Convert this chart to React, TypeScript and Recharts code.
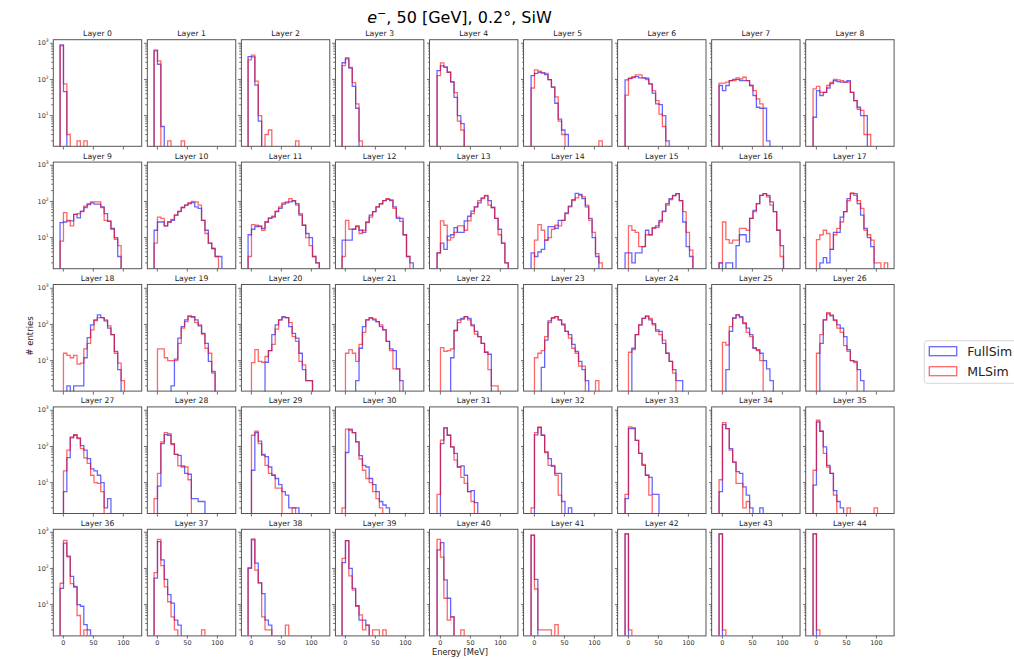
import React from "react";
import { LineChart, Line, XAxis, YAxis } from "recharts";

// histogram binning shared by every layer (MeV)
const binStart = -5.5;
const binWidth = 5.65;
const FLOOR = 0.5; // empty bins drop below the log axis

const layerNames = Array.from({ length: 45 }, (_, i) => `Layer ${i}`);
const xTicks = [0, 50, 100];
const yMajor = [10, 100, 1000];
const yMinor = [2, 3, 4, 5, 6, 7, 8, 9, 20, 30, 40, 50, 60, 70, 80, 90, 200, 300, 400, 500, 600, 700, 800, 900];
const yTicks = [...yMinor, ...yMajor].sort((a, b) => a - b);

// counts per bin, one row per layer
const fullSim: number[][] = [
  [900, 46],
  [650, 263, 5],
  [430, 420, 70, 7],
  [290, 370, 205, 64, 16],
  [176, 237, 222, 158, 84, 32, 10, 6],
  [128, 148, 158, 152, 136, 99, 61, 22, 8, 4, 3],
  [97, 108, 112, 120, 110, 110, 108, 75, 42, 21, 20, 10, 2],
  [68, 49, 68, 93, 101, 101, 93, 93, 93, 68, 36, 17, 16, 16, 2],
  [9, 49, 36, 44, 58, 77, 93, 87, 84, 84, 93, 44, 26, 17, 10, 10],
  [26, 27, 29, 29, 44, 35, 54, 68, 82, 91, 84, 84, 71, 46, 28, 18, 10, 3],
  [16, 27, 27, 21, 27, 30, 42, 52, 68, 79, 87, 93, 71, 64, 30, 16, 7, 5, 3, 3],
  [12, 17, 20, 21, 18, 27, 34, 37, 52, 64, 84, 91, 97, 106, 87, 42, 22, 13, 10, 3, 2],
  [8.5, 8.5, 8.5, 17, 21, 16, 14, 27, 42, 52, 71, 87, 106, 115, 106, 71, 34, 34, 12, 3, 2],
  [3.8, 7, 4.7, 11, 12, 19, 14, 14, 29, 39, 54, 71, 91, 126, 142, 106, 68, 34, 17, 7, 2],
  [3.8, 3, 4, 4.7, 8.5, 20, 20, 18, 30, 30, 48, 74, 112, 168, 157, 120, 71, 34, 10, 3],
  [3.8, 3.8, 2, 3.8, 3.8, 5.6, 16, 12, 19, 21, 30, 54, 87, 120, 148, 165, 106, 27, 5.6, 3],
  [2, 0, 2, 2, 0, 6, 12, 12, 7.6, 34, 57, 87, 148, 165, 148, 97, 52, 16, 6],
  [0, 0, 2, 2.8, 2, 4.7, 14, 14, 37, 52, 120, 165, 165, 87, 42, 18, 10, 5.6],
  [0, 0, 2, 0, 2, 2, 2, 12, 43, 97, 134, 183, 155, 126, 79, 52, 18, 5.6],
  [0, 0, 0, 0, 0, 2, 11, 42, 87, 134, 172, 165, 134, 91, 57, 30, 9.5, 5],
  [0, 0, 0, 0, 0, 9, 19, 52, 97, 134, 165, 155, 87, 57, 42, 16, 5.6, 2.8, 2.8],
  [0, 0, 0, 0, 2.8, 22, 87, 134, 155, 134, 120, 87, 71, 34, 21, 19, 5.9, 2.8],
  [0, 0, 0, 0, 12, 68, 134, 148, 165, 148, 97, 64, 46, 30, 17, 15],
  [0, 0, 0, 6.5, 37, 126, 155, 165, 134, 97, 64, 52, 28, 18, 9.5, 5.6, 2.8],
  [0, 0, 22, 52, 97, 148, 172, 134, 106, 71, 64, 30, 16, 9.5, 5.6, 2.8, 2.8],
  [0, 0, 5.6, 64, 148, 183, 165, 106, 79, 52, 22, 20, 16, 10, 5.9, 2.8],
  [0, 0, 30, 134, 196, 172, 134, 97, 79, 46, 20, 10, 9.5, 5.6, 2.8],
  [0, 5.6, 49, 172, 204, 172, 106, 79, 46, 24, 21, 16, 10, 2, 3.6],
  [0, 8, 120, 212, 204, 120, 60, 57, 29, 18, 17, 3.6, 3.6, 3, 3],
  [0, 22, 241, 140, 60, 52, 27, 16, 13, 8.8, 5.6, 4.5, 2, 2, 2],
  [0, 68, 300, 240, 134, 56, 30, 27, 13, 8.8, 5.6, 3, 2.4, 2],
  [0, 120, 325, 204, 97, 64, 27, 29, 16, 5.6, 6, 2.8],
  [0, 210, 330, 204, 71, 46, 28, 18, 18, 3, 0, 2],
  [3.6, 311, 311, 148, 64, 30, 16, 14, 4.7, 4.7],
  [5.6, 400, 311, 87, 37, 20, 18, 7.6, 4.5, 2, 0, 0, 2],
  [8.5, 475, 263, 97, 30, 18, 6, 3, 2],
  [28, 500, 220, 60, 32, 10, 9, 2.8, 2],
  [54, 550, 172, 50, 19, 11, 3.7, 2.7],
  [100, 620, 140, 40, 20, 3.7, 2.7],
  [145, 590, 100, 28, 9.3, 3.7, 3.7, 2.7],
  [325, 520, 48, 15, 4.6],
  [840, 50],
  [900],
  [900],
  [900],
];

const mlSim: number[][] = [
  [850, 75, 3, 0, 0, 2, 0, 2],
  [620, 325, 0, 0, 2, 0, 0, 0, 2],
  [350, 470, 90, 10, 0, 3, 4, 0, 0, 0, 0, 0, 0, 0, 2],
  [240, 400, 215, 82, 21, 2],
  [128, 287, 217, 158, 87, 43, 7, 4],
  [58, 184, 170, 152, 148, 99, 61, 33, 7, 3, 0, 0, 0, 0, 0, 0, 0, 0, 0, 0, 2],
  [37, 106, 120, 133, 133, 110, 99, 75, 49, 26, 11, 5],
  [79, 79, 84, 93, 93, 110, 103, 115, 93, 68, 49, 29, 21],
  [55, 64, 44, 44, 68, 83, 101, 97, 93, 84, 85, 44, 26, 15, 14, 3, 3],
  [8, 49, 30, 21, 44, 46, 52, 74, 87, 97, 97, 97, 68, 30, 29, 17, 9, 6],
  [7, 37, 34, 21, 27, 32, 42, 54, 68, 79, 93, 100, 97, 79, 30, 13, 7, 5, 3],
  [3, 23, 22, 20, 16, 27, 35, 39, 54, 71, 91, 97, 120, 103, 79, 46, 22, 10, 6, 3, 2],
  [3, 30, 17, 17, 20, 13, 16, 26, 37, 52, 71, 84, 106, 120, 112, 64, 37, 28, 12, 3],
  [3.8, 29, 22, 8.5, 10, 14, 21, 21, 16, 29, 46, 71, 106, 120, 148, 79, 68, 34, 12, 7, 2],
  [0, 8.5, 23, 16, 8.5, 10, 17, 22, 21, 30, 46, 71, 106, 126, 148, 134, 79, 30, 14, 3.6, 2],
  [0, 21, 16, 14, 5.6, 5.6, 12, 12, 18, 19, 27, 52, 79, 112, 142, 165, 106, 52, 14, 4.5],
  [2, 27, 8.8, 7, 8.5, 8.5, 18, 18, 16, 34, 52, 87, 148, 165, 134, 79, 52, 16, 3],
  [0, 8.8, 12, 16, 13, 4.7, 12, 18, 27, 52, 106, 172, 148, 106, 64, 16, 12, 8.5, 2, 2, 0, 2],
  [0, 16, 14, 12, 14, 8, 8.5, 21, 30, 71, 128, 155, 155, 134, 91, 52, 16, 8.5, 2.8],
  [0, 21, 21, 12, 10, 10, 10, 30, 79, 120, 165, 158, 112, 97, 54, 22, 16, 4.5],
  [0, 8.8, 20, 9.5, 9, 13, 19, 28, 74, 134, 155, 155, 112, 46, 34, 9.5, 7.6, 2.8, 2.8],
  [0, 16, 20, 16, 9.5, 28, 60, 134, 148, 142, 120, 97, 71, 34, 19, 5.9, 5.9],
  [0, 23, 18, 19, 21, 68, 112, 139, 165, 134, 91, 54, 46, 30, 17, 5.6, 2, 2],
  [0, 12, 16, 19, 46, 112, 148, 165, 134, 103, 64, 42, 22, 16, 7, 7, 0, 0, 0, 2.8],
  [0, 17, 20, 52, 97, 148, 165, 148, 97, 64, 52, 37, 16, 9.5, 4.5],
  [0, 32, 27, 87, 155, 183, 155, 112, 60, 46, 23, 19, 10],
  [0, 16, 52, 134, 212, 183, 128, 79, 60, 26, 18, 10, 8.8],
  [0, 21, 79, 183, 212, 165, 87, 48, 34, 16, 10, 9.5, 5.6],
  [3.6, 18, 134, 241, 227, 112, 60, 29, 27, 27, 12],
  [0, 204, 263, 120, 57, 30, 18, 16, 7, 7, 0, 0, 0, 2],
  [2, 300, 280, 240, 134, 45, 22, 13, 10, 5.6, 3.6, 2],
  [4.7, 150, 325, 204, 97, 42, 27, 14, 9.5, 5.6, 3],
  [2, 240, 345, 204, 68, 30, 30, 16, 4.5],
  [4.7, 345, 330, 148, 64, 32, 16, 4.5],
  [12, 457, 311, 79, 37, 9.5, 9.5, 2, 3],
  [22, 530, 263, 64, 27, 18, 4.5, 0, 0, 0, 2, 0, 0, 0, 0, 0, 0, 0, 2],
  [39, 600, 210, 38, 30, 5, 0, 2],
  [77, 640, 120, 31, 12, 4.6, 2, 0, 0, 0, 0, 0, 0, 0, 2],
  [105, 660, 90, 40, 4.6, 2, 2, 0, 0, 0, 0, 2.7],
  [190, 590, 62, 25, 9, 5.2, 2, 2.7, 0, 2, 2, 0, 2],
  [640, 205, 15, 3.7, 4.6, 0, 0, 2],
  [840, 27, 2, 2, 2, 2, 0, 2.8],
  [900, 2],
  [900, 2],
  [900, 2],
];

const X_DOMAIN: [number, number] = [-17.3, 130];
const Y_DOMAIN: [number, number] = [1.39, 1233];

// figure layout
const panelW = 88.4;
const panelH = 106.6;
const colX = (c: number) => 53.3 + 94.05 * c;
const rowY = (r: number) => 39.7 + 122.4 * r;
const AXW = 36;
const AXH = 16;
const PADT = 8;
const FONT = "'DejaVu Sans', sans-serif";
const BLUE = "rgba(0,0,255,0.6)";
const RED = "rgba(255,0,0,0.6)";

function steps(full: number[], ml: number[]) {
  const n = Math.max(full.length, ml.length);
  const v = (a: number[], i: number) => (a[i] && a[i] > 0 ? a[i] : FLOOR);
  const pts = [{ e: binStart, full: FLOOR, ml: FLOOR }];
  for (let i = 0; i < n; i++) {
    pts.push({ e: binStart + i * binWidth, full: v(full, i), ml: v(ml, i) });
  }
  pts.push({ e: binStart + n * binWidth, full: FLOOR, ml: FLOOR });
  return pts;
}

const supers: Record<number, string> = { 10: "1", 100: "2", 1000: "3" };

function YTick(props: any) {
  const { x, y, payload, show } = props;
  const major = yMajor.includes(payload.value);
  const len = major ? 3 : 1.8;
  return (
    <g>
      <line x1={x} x2={x - len} y1={y} y2={y} stroke="#333" strokeWidth={0.7} />
      {major && show && (
        <text x={x - 4.3} y={y + 2.2} textAnchor="end" fontSize={6.5} fill="#333" fontFamily={FONT}>
          10
          <tspan dy={-3} fontSize={4.6}>{supers[payload.value]}</tspan>
        </text>
      )}
    </g>
  );
}

function XTick(props: any) {
  const { x, y, payload, show } = props;
  return (
    <g>
      <line x1={x} x2={x} y1={y} y2={y + 3} stroke="#333" strokeWidth={0.7} />
      {show && (
        <text x={x} y={y + 9.8} textAnchor="middle" fontSize={6.5} fill="#333" fontFamily={FONT}>
          {payload.value}
        </text>
      )}
    </g>
  );
}

function Panel({ idx }: { idx: number }) {
  const c = idx % 9;
  const r = Math.floor(idx / 9);
  const data = steps(fullSim[idx], mlSim[idx]);
  const w = panelW + AXW + 1;
  const h = panelH + AXH + PADT;
  return (
    <div style={{ position: "absolute", left: colX(c) - AXW, top: rowY(r) - PADT, width: w, height: h }}>
      <LineChart width={w} height={h} data={data} margin={{ top: PADT, right: 1, bottom: 0, left: 0 }}>
        <XAxis
          dataKey="e"
          type="number"
          domain={X_DOMAIN}
          ticks={xTicks}
          allowDataOverflow
          height={AXH}
          axisLine={false}
          tickLine={false}
          tickSize={0}
          tickMargin={0}
          interval={0}
          tick={(p: any) => <XTick {...p} show={r === 4} />}
        />
        <YAxis
          type="number"
          scale="log"
          domain={Y_DOMAIN}
          ticks={yTicks}
          allowDataOverflow
          width={AXW}
          axisLine={false}
          tickLine={false}
          tickSize={0}
          tickMargin={0}
          interval={0}
          tick={(p: any) => <YTick {...p} show={c === 0} />}
        />
        <Line dataKey="full" type="stepAfter" stroke={BLUE} strokeWidth={1.3} dot={false} isAnimationActive={false} />
        <Line dataKey="ml" type="stepAfter" stroke={RED} strokeWidth={1.3} dot={false} isAnimationActive={false} />
      </LineChart>
    </div>
  );
}

export default function App() {
  return (
    <div style={{ position: "absolute", left: 0, top: 0, width: 1014, height: 659, background: "#fff", overflow: "hidden" }}>
      {layerNames.map((_, i) => (
        <Panel key={i} idx={i} />
      ))}
      <svg width={1014} height={659} style={{ position: "absolute", left: 0, top: 0, pointerEvents: "none" }} fontFamily={FONT}>
        <text x={459.5} y={23.3} textAnchor="middle" fontSize={16} fill="#000">
          <tspan fontStyle="italic">e</tspan>
          <tspan dy={-6.5} fontSize={11}>−</tspan>
          <tspan dy={6.5}>, 50 [GeV], 0.2°, SiW</tspan>
        </text>
        {layerNames.map((name, i) => {
          const c = i % 9;
          const r = Math.floor(i / 9);
          return (
            <g key={name}>
              <rect x={colX(c)} y={rowY(r)} width={panelW} height={panelH} fill="none" stroke="#555" strokeWidth={1} />
              <text x={colX(c) + panelW / 2} y={rowY(r) - 3.6} textAnchor="middle" fontSize={7.7} fill="#222">
                {name}
              </text>
            </g>
          );
        })}
        <text transform="translate(33.3,336) rotate(-90)" textAnchor="middle" fontSize={8.5} fill="#222">
          # entries
        </text>
        <text x={460} y={655} textAnchor="middle" fontSize={8.3} fill="#222">
          Energy [MeV]
        </text>
        <g>
          <rect x={924.3} y={340.7} width={100} height={42.6} rx={3} fill="#fff" fillOpacity={0.8} stroke="#d6d6d6" strokeWidth={1} />
          <rect x={929.3} y={346.7} width={27.4} height={9} fill="none" stroke={BLUE} strokeWidth={1.3} />
          <text x={967.3} y={355.7} fontSize={12.5} fill="#222">FullSim</text>
          <rect x={929.3} y={366.7} width={27.4} height={9} fill="none" stroke={RED} strokeWidth={1.3} />
          <text x={967.3} y={375.7} fontSize={12.5} fill="#222">MLSim</text>
        </g>
      </svg>
    </div>
  );
}
